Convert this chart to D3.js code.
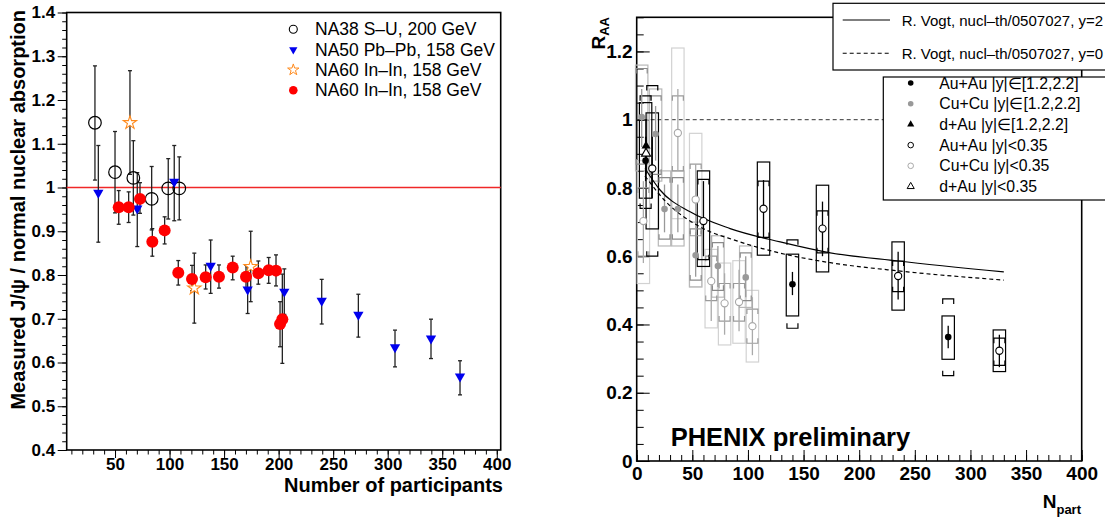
<!DOCTYPE html>
<html>
<head>
<meta charset="utf-8">
<script src="https://cdn.jsdelivr.net/npm/d3@7"></script>
<style>
body { margin: 0; background: #fff; }
svg { display: block; font-family: "Liberation Sans", Arial, Helvetica, sans-serif; }
</style>
</head>
<body>
<svg id="chart" width="1105" height="521"></svg>
<script>
// ---------------- left panel data (SPS) ----------------
var na38N  = [31.6, 50.0, 66.8, 83.6, 98.8, 108.9];
var na38V  = [1.148, 1.035, 1.022, 0.974, 0.998, 0.998];
var na38Hi = [1.278, 1.128, 1.107, 1.048, 1.066, 1.070];
var na38Lo = [1.017, 0.942, 0.937, 0.903, 0.928, 0.926];

var na50N  = [34.7, 70.4, 104.3, 137.7, 171.6, 205.2, 239.5, 273.1, 306.7, 339.7, 366.3];
var na50V  = [0.988, 0.952, 1.013, 0.821, 0.767, 0.762, 0.741, 0.709, 0.635, 0.655, 0.568];
var na50Hi = [1.096, 1.034, 1.096, 0.880, 0.819, 0.814, 0.790, 0.756, 0.674, 0.699, 0.604];
var na50Lo = [0.875, 0.865, 0.924, 0.758, 0.712, 0.710, 0.688, 0.658, 0.590, 0.609, 0.526];

var na60sN  = [63.7, 122.7, 174.4];
var na60sV  = [1.148, 0.770, 0.819];
var na60sHi = [1.267, 0.850, 0.900];
var na60sLo = [1.030, 0.690, 0.739];

var na60N  = [53.4, 62.5, 72.9, 84.2, 95.5, 108.0, 120.6, 133.1, 145.3, 157.9, 170.1, 181.4, 190.9, 197.6, 201.3, 203.4];
var na60V  = [0.955, 0.955, 0.974, 0.876, 0.902, 0.805, 0.791, 0.795, 0.796, 0.817, 0.796, 0.804, 0.811, 0.810, 0.688, 0.699];
var na60Hi = [0.993, 0.990, 1.011, 0.906, 0.933, 0.833, 0.822, 0.823, 0.823, 0.843, 0.823, 0.832, 0.840, 0.846, 0.739, 0.802];
var na60Lo = [0.916, 0.920, 0.941, 0.843, 0.871, 0.777, 0.764, 0.768, 0.770, 0.789, 0.770, 0.779, 0.781, 0.775, 0.636, 0.598];

var leftLegend = ["NA38 S\u2013U, 200 GeV", "NA50 Pb\u2013Pb, 158 GeV", "NA60 In\u2013In, 158 GeV", "NA60 In\u2013In, 158 GeV"];
var leftXTicks = [50, 100, 150, 200, 250, 300, 350, 400];
var leftYTicks = [0.4, 0.5, 0.6, 0.7, 0.8, 0.9, 1.0, 1.1, 1.2, 1.3, 1.4];

// ---------------- right panel data (PHENIX) ----------------
// Cu+Cu |y|<0.35
var cuMidN   = [6, 37, 53, 67, 79, 92, 104];
var cuMidR   = [0.703, 0.961, 0.766, 0.527, 0.462, 0.466, 0.395];
var cuMidErr = [[0.58, 0.82], [0.85, 1.09], [0.66, 0.87], [0.41, 0.66], [0.37, 0.55], [0.38, 0.56], [0.31, 0.48]];
var cuMidBox = [[0.52, 0.88], [0.71, 1.21], [0.51, 0.96], [0.39, 0.62], [0.34, 0.58], [0.345, 0.587], [0.29, 0.50]];
var cuMidSys = [[0.60, 0.80], [0.85, 1.07], [0.66, 0.87], [0.47, 0.60], [0.41, 0.52], [0.41, 0.52], [0.345, 0.445]];
// Cu+Cu |y| in [1.2,2.2]
var cuFwdN   = [4.5, 17, 25, 37, 53, 73, 98];
var cuFwdR   = [1.008, 0.958, 0.738, 0.738, 0.603, 0.571, 0.538];
var cuFwdErr = [[0.92, 1.09], [0.88, 1.04], [0.67, 0.81], [0.67, 0.81], [0.54, 0.67], [0.51, 0.63], [0.48, 0.60]];
var cuFwdBox = [[0.85, 1.16], [0.82, 1.09], [0.63, 0.85], [0.63, 0.85], [0.51, 0.70], [0.48, 0.66], [0.45, 0.63]];
var cuFwdSys = [[0.87, 1.15], [0.84, 1.07], [0.65, 0.83], [0.65, 0.83], [0.53, 0.68], [0.50, 0.64], [0.47, 0.61]];
// Au+Au |y|<0.35
var auMidN   = [14, 60, 114, 167, 235, 326];
var auMidR   = [0.857, 0.703, 0.739, 0.681, 0.542, 0.323];
var auMidErr = [[0.77, 0.95], [0.60, 0.82], [0.653, 0.823], [0.60, 0.76], [0.473, 0.613], [0.275, 0.37]];
var auMidBox = [[0.68, 1.02], [0.57, 0.85], [0.603, 0.876], [0.554, 0.808], [0.442, 0.642], [0.262, 0.384]];
var auMidSys = [[0.60, 1.10], [0.59, 0.825], [0.655, 0.82], [0.61, 0.733], [0.496, 0.586], [0.28, 0.36]];
// Au+Au |y| in [1.2,2.2]
var auFwdN   = [8, 140, 280];
var auFwdR   = [0.88, 0.518, 0.363];
var auFwdErr = [[0.82, 0.95], [0.486, 0.554], [0.33, 0.396]];
var auFwdBox = [[0.77, 1.05], [0.425, 0.606], [0.298, 0.425]];
var auFwdSys = [[0.74, 1.07], [0.389, 0.648], [0.25, 0.475]];
// d+Au
var dauFwdN = [8.4], dauFwdR = [0.923], dauFwdErr = [[0.84, 1.0]];
var dauMidN = [8.4], dauMidR = [0.901], dauMidErr = [[0.85, 0.95]];

// R. Vogt curves
var vogtFwdN = [7.5, 21, 48, 84, 129, 174, 235, 330];
var vogtFwdR = [0.857, 0.794, 0.730, 0.681, 0.642, 0.610, 0.586, 0.554];
var vogtMidN = [7.5, 25, 57, 90, 129, 174, 235, 330];
var vogtMidR = [0.835, 0.764, 0.686, 0.645, 0.609, 0.581, 0.557, 0.530];

var rightXTicks = [0, 50, 100, 150, 200, 250, 300, 350, 400];
var rightYTicks = [0, 0.2, 0.4, 0.6, 0.8, 1.0, 1.2];
var curveLegend = ["R. Vogt, nucl\u2013th/0507027, y=2", "R. Vogt, nucl\u2013th/0507027, y=0"];
var pointLegend = ["Au+Au |y|\u2208[1.2,2.2]", "Cu+Cu |y|\u2208[1.2,2.2]", "d+Au |y|\u2208[1.2,2.2]",
                   "Au+Au |y|<0.35", "Cu+Cu |y|<0.35", "d+Au |y|<0.35"];

var svg = d3.select("#chart");
svg.append("rect").attr("width", 1105).attr("height", 521).attr("fill", "#fff");

var fmt = function(d) { return String(+d.toFixed(2)); };
var styleAxis = function(g, size) {
  g.select(".domain").remove();
  g.selectAll("line").attr("stroke", "#000").attr("stroke-width", 1);
  g.selectAll("text").attr("fill", "#000").attr("font-size", size).attr("font-weight", "bold")
    .attr("font-family", "'Liberation Sans', Arial, sans-serif");
};

// =============== LEFT ===============
var xL = d3.scaleLinear().domain([5.7, 403.6]).range([66.7, 500.7]);
var yL = d3.scaleLinear().domain([0.4, 1.4]).range([450, 12.5]);
var L = svg.append("g");

L.append("g").attr("transform", "translate(66.7,0)")
  .call(d3.axisLeft(yL).tickValues(d3.range(20, 71).map(function(i){ return i / 50; })).tickSize(4.5).tickFormat(""))
  .call(styleAxis, 17);
L.append("g").attr("transform", "translate(66.7,0)")
  .call(d3.axisLeft(yL).tickValues(leftYTicks).tickSize(9).tickPadding(2.5).tickFormat(fmt))
  .call(styleAxis, 17);
L.append("g").attr("transform", "translate(0,450)")
  .call(d3.axisBottom(xL).tickValues(d3.range(10, 401, 10)).tickSize(4.5).tickFormat(""))
  .call(styleAxis, 17);
L.append("g").attr("transform", "translate(0,450)")
  .call(d3.axisBottom(xL).tickValues(leftXTicks).tickSize(8).tickPadding(0).tickFormat(fmt))
  .call(styleAxis, 17);

L.append("rect").attr("x", 66.7).attr("y", 12.5).attr("width", 434).attr("height", 437.5)
  .attr("fill", "none").attr("stroke", "#000").attr("stroke-width", 1.6);

// red reference line
L.append("line").attr("x1", xL(5.7)).attr("x2", xL(403.6)).attr("y1", Math.round(yL(1)) + 0.5).attr("y2", Math.round(yL(1)) + 0.5)
  .attr("stroke", "#f02828").attr("stroke-width", 1.3);

var errBars = function(ns, lo, hi) {
  var g = L.append("g").attr("stroke", "#222").attr("stroke-width", 1.3);
  ns.forEach(function(n, i) {
    var x = xL(n);
    g.append("line").attr("x1", x).attr("x2", x).attr("y1", yL(lo[i])).attr("y2", yL(hi[i]));
    g.append("line").attr("x1", x - 2).attr("x2", x + 2).attr("y1", yL(lo[i])).attr("y2", yL(lo[i]));
    g.append("line").attr("x1", x - 2).attr("x2", x + 2).attr("y1", yL(hi[i])).attr("y2", yL(hi[i]));
  });
};
errBars(na38N, na38Lo, na38Hi);
errBars(na50N, na50Lo, na50Hi);
errBars(na60sN, na60sLo, na60sHi);
errBars(na60N, na60Lo, na60Hi);

var triDown = d3.symbol().type(d3.symbolTriangle).size(46);
var star = d3.symbol().type(d3.symbolStar).size(55);

L.selectAll(".na38").data(na38N).enter().append("circle")
  .attr("cx", function(d){ return xL(d); }).attr("cy", function(d, i){ return yL(na38V[i]); })
  .attr("r", 6.3).attr("fill", "none").attr("stroke", "#000").attr("stroke-width", 1.2);
L.selectAll(".na50").data(na50N).enter().append("path").attr("d", triDown)
  .attr("transform", function(d, i){ return "translate(" + xL(d) + "," + yL(na50V[i]) + ") rotate(180)"; })
  .attr("fill", "#0000ee");
L.selectAll(".na60s").data(na60sN).enter().append("path").attr("d", star)
  .attr("transform", function(d, i){ return "translate(" + xL(d) + "," + yL(na60sV[i]) + ")"; })
  .attr("fill", "#fff").attr("stroke", "#ff8a1c").attr("stroke-width", 1.1);
L.selectAll(".na60").data(na60N).enter().append("circle")
  .attr("cx", function(d){ return xL(d); }).attr("cy", function(d, i){ return yL(na60V[i]); })
  .attr("r", 6).attr("fill", "#ff0000");

// legend
var lg = L.append("g");
leftLegend.forEach(function(t, i) {
  var cy = 29.3 + i * 20.3;
  if (i === 0) lg.append("circle").attr("cx", 293.3).attr("cy", cy).attr("r", 4).attr("fill", "none").attr("stroke", "#000").attr("stroke-width", 1.1);
  if (i === 1) lg.append("path").attr("d", d3.symbol().type(d3.symbolTriangle).size(30)).attr("transform", "translate(293.3," + cy + ") rotate(180)").attr("fill", "#0000ee");
  if (i === 2) lg.append("path").attr("d", d3.symbol().type(d3.symbolStar).size(40)).attr("transform", "translate(293.3," + cy + ")").attr("fill", "#fff").attr("stroke", "#ff8a1c");
  if (i === 3) lg.append("circle").attr("cx", 293.3).attr("cy", cy).attr("r", 4.3).attr("fill", "#ff0000");
  lg.append("text").attr("x", 315).attr("y", cy + 6).attr("font-size", 17.5).text(t);
});

L.append("text").attr("x", 503).attr("y", 492).attr("text-anchor", "end")
  .attr("font-size", 20).attr("font-weight", "bold").text("Number of participants");
L.append("text").attr("transform", "translate(24.5,10) rotate(-90)").attr("text-anchor", "end")
  .attr("font-size", 20).attr("font-weight", "bold").text("Measured J/\u03c8 / normal nuclear absorption");

// =============== RIGHT ===============
var xR = d3.scaleLinear().domain([0, 400]).range([636.7, 1081.7]);
var yR = d3.scaleLinear().domain([0, 1.3]).range([461, 17.3]);
var R = svg.append("g");

R.append("g").attr("transform", "translate(636.7,0)")
  .call(d3.axisLeft(yR).tickValues(d3.range(0, 27).map(function(i){ return i / 20; })).tickSize(-7).tickFormat(""))
  .call(styleAxis, 19);
R.append("g").attr("transform", "translate(636.7,0)")
  .call(d3.axisLeft(yR).tickValues(rightYTicks).tickSize(-13).tickPadding(4).tickFormat(fmt))
  .call(styleAxis, 19);
R.append("g").attr("transform", "translate(0,461)")
  .call(d3.axisBottom(xR).tickValues(d3.range(0, 401, 10)).tickSize(-6).tickFormat(""))
  .call(styleAxis, 19);
R.append("g").attr("transform", "translate(0,461)")
  .call(d3.axisBottom(xR).tickValues(rightXTicks).tickSize(-11).tickPadding(6).tickFormat(fmt))
  .call(styleAxis, 19);

R.append("rect").attr("x", 636.7).attr("y", 17.3).attr("width", 445).attr("height", 443.7)
  .attr("fill", "none").attr("stroke", "#000").attr("stroke-width", 1.6);
R.append("line").attr("x1", xR(0)).attr("x2", xR(400)).attr("y1", yR(1)).attr("y2", yR(1))
  .attr("stroke", "#333").attr("stroke-width", 1).attr("stroke-dasharray", "4,3");

var series = [
  { n: cuMidN, r: cuMidR, err: cuMidErr, box: cuMidBox, sys: cuMidSys, boxC: "#d2d2d2", sysC: "#9a9a9a", errC: "#aaaaaa", kind: "open", mC: "#a8a8a8" },
  { n: cuFwdN, r: cuFwdR, err: cuFwdErr, box: cuFwdBox, sys: cuFwdSys, boxC: "#b8b8b8", sysC: "#8a8a8a", errC: "#999999", kind: "fill", mC: "#999999" },
  { n: auMidN, r: auMidR, err: auMidErr, box: auMidBox, sys: auMidSys, boxC: "#000", sysC: "#000", errC: "#000", kind: "open", mC: "#000" },
  { n: auFwdN, r: auFwdR, err: auFwdErr, box: auFwdBox, sys: auFwdSys, boxC: "#000", sysC: "#000", errC: "#000", kind: "fill", mC: "#000" }
];

// boxes
series.forEach(function(s) {
  R.append("g").selectAll("rect").data(s.n).enter().append("rect")
    .attr("x", function(d){ return xR(d) - 6.2; }).attr("width", 12.4)
    .attr("y", function(d, i){ return yR(s.box[i][1]); })
    .attr("height", function(d, i){ return yR(s.box[i][0]) - yR(s.box[i][1]); })
    .attr("fill", "none").attr("stroke", s.boxC).attr("stroke-width", 1.2);
});
// brackets
series.forEach(function(s) {
  var g = R.append("g").attr("fill", "none").attr("stroke", s.sysC).attr("stroke-width", 1.2);
  s.n.forEach(function(n, i) {
    var x = xR(n), yt = yR(s.sys[i][1]), yb = yR(s.sys[i][0]);
    g.append("path").attr("d", "M" + (x - 5.5) + "," + (yt + 5) + "V" + yt + "H" + (x + 5.5) + "V" + (yt + 5));
    g.append("path").attr("d", "M" + (x - 5.5) + "," + (yb - 5) + "V" + yb + "H" + (x + 5.5) + "V" + (yb - 5));
  });
});
// stat errors
series.concat([
  { n: dauFwdN, err: dauFwdErr, errC: "#000" },
  { n: dauMidN, err: dauMidErr, errC: "#000" }
]).forEach(function(s) {
  R.append("g").selectAll("line").data(s.n).enter().append("line")
    .attr("x1", function(d){ return xR(d); }).attr("x2", function(d){ return xR(d); })
    .attr("y1", function(d, i){ return yR(s.err[i][0]); }).attr("y2", function(d, i){ return yR(s.err[i][1]); })
    .attr("stroke", s.errC).attr("stroke-width", 1.3);
});

// theory curves
var line = d3.line().curve(d3.curveMonotoneX);
R.append("path").attr("d", line(vogtFwdN.map(function(n, i){ return [xR(n), yR(vogtFwdR[i])]; })))
  .attr("fill", "none").attr("stroke", "#000").attr("stroke-width", 1.2);
R.append("path").attr("d", line(vogtMidN.map(function(n, i){ return [xR(n), yR(vogtMidR[i])]; })))
  .attr("fill", "none").attr("stroke", "#000").attr("stroke-width", 1.2).attr("stroke-dasharray", "4,3");

// markers
series.forEach(function(s) {
  R.append("g").selectAll("circle").data(s.n).enter().append("circle")
    .attr("cx", function(d){ return xR(d); }).attr("cy", function(d, i){ return yR(s.r[i]); })
    .attr("r", s.kind === "open" ? 3.6 : 3.3)
    .attr("fill", s.kind === "open" ? "#fff" : s.mC)
    .attr("stroke", s.kind === "open" ? s.mC : "none").attr("stroke-width", 1.1);
});
var tri = d3.symbol().type(d3.symbolTriangle).size(36);
R.selectAll(".dfwd").data(dauFwdN).enter().append("path").attr("d", tri)
  .attr("transform", function(d, i){ return "translate(" + xR(d) + "," + yR(dauFwdR[i]) + ")"; }).attr("fill", "#000");
R.selectAll(".dmid").data(dauMidN).enter().append("path").attr("d", tri)
  .attr("transform", function(d, i){ return "translate(" + xR(d) + "," + yR(dauMidR[i]) + ")"; })
  .attr("fill", "#fff").attr("stroke", "#000").attr("stroke-width", 1.1);

R.append("text").attr("x", 670.7).attr("y", 446).attr("font-size", 25.5).attr("font-weight", "bold")
  .text("PHENIX preliminary");

// axis titles
var ra = R.append("text").attr("transform", "translate(605,17) rotate(-90)").attr("text-anchor", "end")
  .attr("font-size", 19).attr("font-weight", "bold");
ra.append("tspan").text("R");
ra.append("tspan").attr("font-size", 13).attr("dy", 4).text("AA");
var np = R.append("text").attr("x", 1081).attr("y", 508).attr("text-anchor", "end")
  .attr("font-size", 19).attr("font-weight", "bold");
np.append("tspan").text("N");
np.append("tspan").attr("font-size", 13).attr("dy", 6).text("part");

// curve legend
var lg1 = R.append("g");
lg1.append("rect").attr("x", 833).attr("y", 3.3).attr("width", 300).attr("height", 66.7)
  .attr("fill", "#fff").attr("stroke", "#000").attr("stroke-width", 1.2);
curveLegend.forEach(function(t, i) {
  var cy = 20 + i * 33.3;
  lg1.append("line").attr("x1", 842.7).attr("x2", 890).attr("y1", cy).attr("y2", cy)
    .attr("stroke", "#000").attr("stroke-width", 1.1).attr("stroke-dasharray", i ? "4,3" : null);
  lg1.append("text").attr("x", 901.7).attr("y", cy + 5.5).attr("font-size", 15).text(t);
});

// point legend
var lg2 = R.append("g");
lg2.append("rect").attr("x", 883.3).attr("y", 77).attr("width", 300).attr("height", 123)
  .attr("fill", "#fff").attr("stroke", "#000").attr("stroke-width", 1.2);
var smallTri = d3.symbol().type(d3.symbolTriangle).size(22);
pointLegend.forEach(function(t, i) {
  var cy = 83 + i * 20.7, mx = 910.7;
  if (i === 0) lg2.append("circle").attr("cx", mx).attr("cy", cy).attr("r", 2.8).attr("fill", "#000");
  if (i === 1) lg2.append("circle").attr("cx", mx).attr("cy", cy).attr("r", 2.8).attr("fill", "#999");
  if (i === 2) lg2.append("path").attr("d", smallTri).attr("transform", "translate(" + mx + "," + cy + ")").attr("fill", "#000");
  if (i === 3) lg2.append("circle").attr("cx", mx).attr("cy", cy).attr("r", 2.8).attr("fill", "#fff").attr("stroke", "#000");
  if (i === 4) lg2.append("circle").attr("cx", mx).attr("cy", cy).attr("r", 2.8).attr("fill", "#fff").attr("stroke", "#aaa");
  if (i === 5) lg2.append("path").attr("d", smallTri).attr("transform", "translate(" + mx + "," + cy + ")").attr("fill", "#fff").attr("stroke", "#000");
  lg2.append("text").attr("x", 939.3).attr("y", cy + 5.5).attr("font-size", 15.8).text(t);
});
</script>
</body>
</html>
